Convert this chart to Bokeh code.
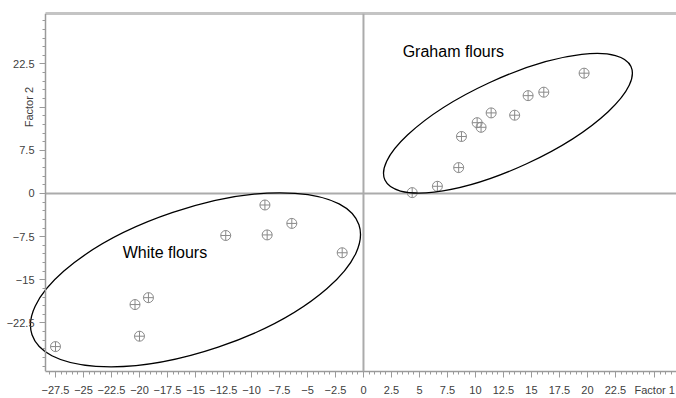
import math
from bokeh.plotting import figure
from bokeh.models import (ColumnDataSource, FixedTicker, Span, Label, Range1d, LinearAxis)
from bokeh.embed import file_html
from bokeh.resources import INLINE

# ---- data ----
white_x = [-27.5, -20.4, -19.2, -20.0, -12.3, -8.6, -8.8, -6.4, -1.9]
white_y = [-26.6, -19.3, -18.1, -24.8, -7.3, -7.2, -2.0, -5.2, -10.3]

graham_x = [4.35, 6.6, 8.5, 8.75, 10.15, 10.5, 11.4, 13.5, 14.7, 16.1, 19.7]
graham_y = [0.15, 1.25, 4.5, 9.9, 12.3, 11.5, 14.0, 13.6, 17.0, 17.6, 20.9]

x_ticks = [-27.5, -25, -22.5, -20, -17.5, -15, -12.5, -10, -7.5, -5, -2.5,
           0, 2.5, 5, 7.5, 10, 12.5, 15, 17.5, 20, 22.5]
y_ticks = [-22.5, -15, -7.5, 0, 7.5, 15, 22.5]

group_labels = ["White flours", "Graham flours"]
x_title = "Factor 1"
y_title = "Factor 2"

# confidence ellipses (center x, center y, width, height, angle in degrees)
ell_x = [-15.0, 12.9]
ell_y = [-15.0, 12.2]
ell_w = [30.8, 24.2]
ell_h = [24.7, 15.5]
ell_angle = [18.6, 24.8]

# ---- figure ----
XR = (-32.41, 27.95)     # frame spans the whole width; y axis sits at Y_AXIS_X
YR = (-30.93, 31.27)
Y_AXIS_X = -28.39

p = figure(width=676, height=398, output_backend="svg", toolbar_location=None,
           x_range=Range1d(*XR), y_range=Range1d(*YR),
           min_border_left=0, min_border_right=0, min_border_top=13,
           min_border_bottom=23)
p.background_fill_color = "white"
p.border_fill_color = "white"
p.outline_line_color = None
p.xgrid.visible = False
p.ygrid.visible = False

minor_x = [round(-28.0 + 0.5 * i, 2) for i in range(0, 112)]
minor_y = [round(-30.0 + 1.5 * i, 2) for i in range(0, 41)]

axis_col = "#9a9a9a"
lab_col = "#404040"
FONT = "Liberation Sans"
for ax in (p.xaxis[0], p.yaxis[0]):
    ax.axis_line_color = axis_col
    ax.axis_line_width = 1.5
    ax.major_tick_line_color = axis_col
    ax.minor_tick_line_color = axis_col
    ax.major_tick_in = 0
    ax.minor_tick_in = 0
    ax.major_tick_out = 6
    ax.minor_tick_out = 3
    ax.major_label_text_font = FONT
    ax.major_label_text_font_size = "11px"
    ax.major_label_text_color = lab_col

# x axis: last tick carries the axis title, like the original
x_title_pos = 26.0
p.xaxis.ticker = FixedTicker(ticks=x_ticks + [x_title_pos], minor_ticks=minor_x)
p.xaxis.major_label_overrides = {x_title_pos: x_title}
p.xaxis.bounds = (Y_AXIS_X, XR[1])
p.xaxis.major_label_standoff = 6

# y axis placed inside the frame so the ellipse may run past it
p.yaxis.fixed_location = Y_AXIS_X
p.yaxis.ticker = FixedTicker(ticks=y_ticks, minor_ticks=minor_y)
p.yaxis.major_label_overrides = {15: ""}
p.yaxis.major_label_standoff = 5

# top border of the plot area
top_axis = LinearAxis(ticker=FixedTicker(ticks=[], minor_ticks=[]),
                      bounds=(Y_AXIS_X, XR[1]), axis_line_color="#c4c4c4",
                      axis_line_width=3, major_tick_out=0, minor_tick_out=0,
                      major_tick_in=0, minor_tick_in=0, major_label_standoff=0,
                      major_label_text_font_size="0px")
p.add_layout(top_axis, "above")

# zero lines
p.add_layout(Span(location=0, dimension="height", line_color="#ababab", line_width=2))
p.segment(x0=[Y_AXIS_X], y0=[0], x1=[XR[1]], y1=[0], line_color="#ababab", line_width=2)

# points
src_w = ColumnDataSource(dict(x=white_x, y=white_y))
src_g = ColumnDataSource(dict(x=graham_x, y=graham_y))
for src in (src_w, src_g):
    p.scatter("x", "y", source=src, marker="circle_cross", size=10,
              fill_color=None, line_color="#8a8a8a", line_width=1)

# ellipses
p.ellipse(x=ell_x, y=ell_y, width=ell_w, height=ell_h,
          angle=[math.radians(a) for a in ell_angle],
          fill_color=None, line_color="black", line_width=1.3)

# group labels
p.add_layout(Label(x=-21.5, y=-10.3, text=group_labels[0], text_font=FONT,
                   text_font_size="16px", text_color="black", text_baseline="middle"))
p.add_layout(Label(x=3.5, y=24.7, text=group_labels[1], text_font=FONT,
                   text_font_size="16px", text_color="black", text_baseline="middle"))

# y title in the tick-label column
p.add_layout(Label(x=Y_AXIS_X, x_offset=-16.5, y=15, text=y_title, angle=math.pi / 2,
                   text_font=FONT, text_font_size="11px", text_color=lab_col,
                   text_align="center", text_baseline="middle"))

open("out.html", "w").write(file_html(p, INLINE))
